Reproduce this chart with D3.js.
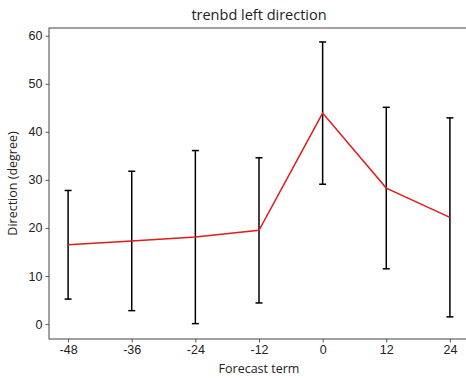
<!DOCTYPE html>
<html>
<head>
<meta charset="utf-8">
<script src="https://cdn.jsdelivr.net/npm/d3@7"></script>
<style>
  body { margin: 0; background: #fff; }
  svg { display: block; font-family: "Open Sans", "DejaVu Sans", sans-serif; }
</style>
</head>
<body>
<svg id="chart"></svg>
<script>
// forecast terms and values
const terms = [-48, -36, -24, -12, 0, 12, 24];
const means = [16.5, 17.3, 18.1, 19.5, 43.9, 28.3, 22.2];
const errors = [11.3, 14.5, 18.0, 15.1, 14.8, 16.8, 20.7];
const yTicks = [0, 10, 20, 30, 40, 50, 60];

const width = 466, height = 379;
const margin = { top: 28, right: -3, bottom: 40, left: 49 };

const svg = d3.select("#chart")
  .attr("width", width)
  .attr("height", height);

const x = d3.scaleLinear()
  .domain([-51.6, 27.6])
  .range([margin.left, width - margin.right]);

const y = d3.scaleLinear()
  .domain([-3.1, 61.6])
  .range([height - margin.bottom, margin.top]);

// axes
const xAxis = d3.axisBottom(x).tickValues(terms).tickSize(3.5).tickPadding(3)
  .tickFormat(d => d);
const yAxis = d3.axisLeft(y).tickValues(yTicks).tickSize(3.5).tickPadding(3);

svg.append("g")
  .attr("class", "x-axis")
  .attr("transform", `translate(0,${height - margin.bottom})`)
  .call(xAxis);
svg.append("g")
  .attr("class", "y-axis")
  .attr("transform", `translate(${margin.left},0)`)
  .call(yAxis);

svg.selectAll(".x-axis, .y-axis")
  .call(g => g.select(".domain").remove())
  .call(g => g.selectAll(".tick line").attr("stroke", "#333").attr("stroke-width", 0.8))
  .call(g => g.selectAll(".tick text").attr("fill", "#222").style("font-size", "12.5px"));

// frame
svg.append("rect")
  .attr("x", margin.left)
  .attr("y", margin.top)
  .attr("width", x.range()[1] - margin.left)
  .attr("height", y.range()[0] - margin.top)
  .attr("fill", "none")
  .attr("stroke", "#444")
  .attr("stroke-width", 1);

// error bars
const bars = svg.append("g")
  .attr("class", "error-bars")
  .attr("stroke", "black")
  .attr("stroke-width", 1.5);

const capW = 3.5;
terms.forEach((t, i) => {
  const lo = y(means[i] - errors[i]), hi = y(means[i] + errors[i]);
  bars.append("line")
    .attr("x1", x(t)).attr("x2", x(t))
    .attr("y1", lo).attr("y2", hi);
  bars.append("line")
    .attr("x1", x(t) - capW).attr("x2", x(t) + capW)
    .attr("y1", lo).attr("y2", lo);
  bars.append("line")
    .attr("x1", x(t) - capW).attr("x2", x(t) + capW)
    .attr("y1", hi).attr("y2", hi);
});

// mean line
const line = d3.line()
  .x((d, i) => x(terms[i]))
  .y(d => y(d));

svg.append("path")
  .datum(means)
  .attr("fill", "none")
  .attr("stroke", "#e41a1c")
  .attr("stroke-width", 1.5)
  .attr("d", line);

// labels
svg.append("text")
  .attr("x", (margin.left + x.range()[1]) / 2)
  .attr("y", 20)
  .attr("text-anchor", "middle")
  .attr("fill", "#222")
  .style("font-size", "14.5px")
  .text("trenbd left direction");

svg.append("text")
  .attr("x", (margin.left + x.range()[1]) / 2)
  .attr("y", 373)
  .attr("text-anchor", "middle")
  .attr("fill", "#222")
  .style("font-size", "12.5px")
  .text("Forecast term");

svg.append("text")
  .attr("transform", `translate(17,${(margin.top + y.range()[0]) / 2}) rotate(-90)`)
  .attr("text-anchor", "middle")
  .attr("fill", "#222")
  .style("font-size", "12.5px")
  .text("Direction (degree)");
</script>
</body>
</html>
